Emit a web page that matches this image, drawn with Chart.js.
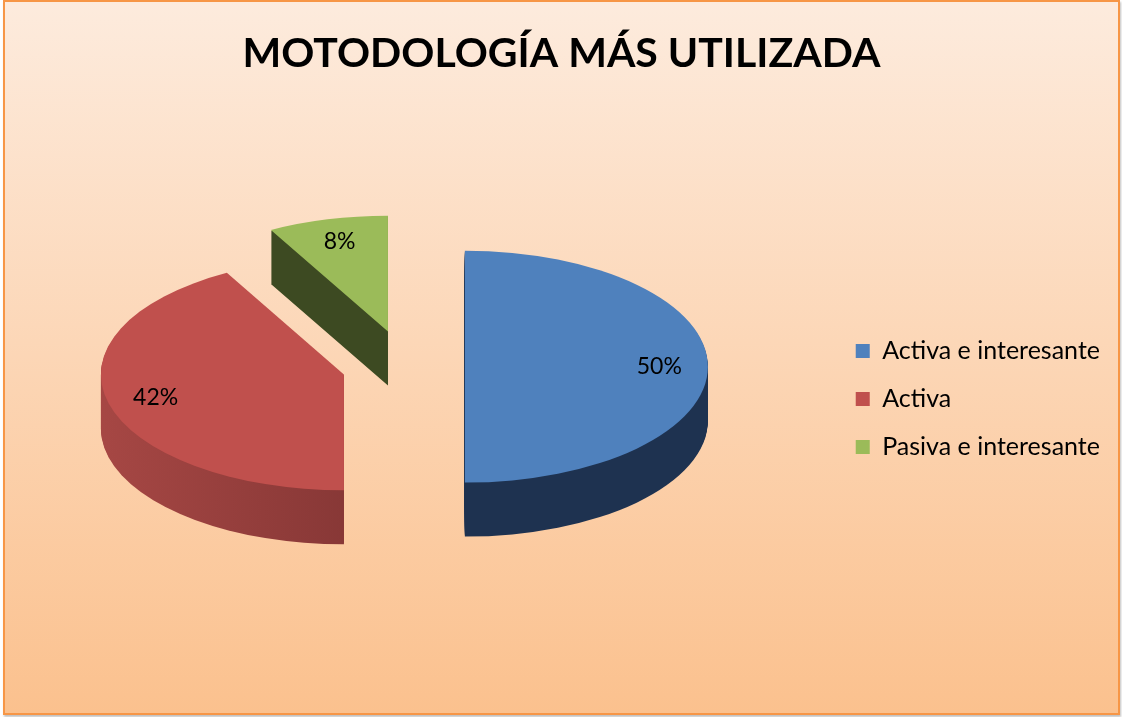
<!DOCTYPE html>
<html><head><meta charset="utf-8">
<script src="https://cdn.jsdelivr.net/npm/chart.js@4/dist/chart.umd.min.js"></script>
<style>
html,body{margin:0;padding:0;background:#fff;}
#wrap{position:absolute;left:3px;top:0;width:1113px;height:711px;border:2px solid #F79646;background:linear-gradient(#FDEBDD,#FBC18E);box-shadow:1px 2px 2px rgba(0,0,0,0.25);}
canvas{display:block}
</style></head><body>
<div id="wrap"><canvas id="c" width="1113" height="711"></canvas></div>
<script>
const categories = ['Activa e interesante', 'Activa', 'Pasiva e interesante'];
const values = [50, 42, 8];
const topColors = ['#4F81BD', '#C0504D', '#9BBB59'];
const sideLight = ['#2E4B71', '#A64744', '#3D4A22'];
const sideDark = ['#1E3250', '#6A2929', '#3D4A22'];
const explode = [58, 65, 76];

const TILT = 0.477, DEPTH = 54, LABEL_R = 0.8, AREA_EXTEND_LEFT = 24;
const FONT = 'Lato, "Open Sans", sans-serif';

const pie3d = {
  id: 'pie3d',
  afterLayout(chart) {
    // keep the title centred on the whole canvas
    const t = chart.titleBlock;
    if (t) { t.left = 0; t.right = chart.width; t.width = chart.width; }
    // let the plot area reach a little further left
    chart.chartArea.left -= AREA_EXTEND_LEFT;
    chart.chartArea.width += AREA_EXTEND_LEFT;
  },
  beforeDatasetsDraw(chart) {
    const ctx = chart.ctx;
    const arcs = chart.getDatasetMeta(0).data;
    const drawArc = (el, i, shift, side) => {
      const mid = (el.startAngle + el.endAngle) / 2;
      const dx = Math.cos(mid) * explode[i], dy = Math.sin(mid) * explode[i];
      ctx.save();
      ctx.translate(0, el.y - DEPTH * 0.6 + shift);
      ctx.scale(1, TILT);
      ctx.translate(dx, dy - el.y);
      const o = el.options;
      if (side) {
        const g = ctx.createLinearGradient(el.x - el.outerRadius, 0, el.x + el.outerRadius, 0);
        if (i === 0) { g.addColorStop(0, sideLight[i]); g.addColorStop(0.35, sideDark[i]); g.addColorStop(1, sideDark[i]); }
        else { g.addColorStop(0, sideLight[i]); g.addColorStop(1, sideDark[i]); }
        el.options = Object.assign({}, o, {backgroundColor: g, borderColor: 'rgba(0,0,0,0)', borderWidth: 0});
      }
      el.draw(ctx);
      el.options = o;
      ctx.restore();
    };
    arcs.forEach((el, i) => { for (let k = DEPTH; k >= 1; k--) drawArc(el, i, k, true); });
    arcs.forEach((el, i) => drawArc(el, i, 0, false));
    return false;
  },
  afterDraw(chart) {
    const ctx = chart.ctx;
    const arcs = chart.getDatasetMeta(0).data;
    const total = values.reduce((a, b) => a + b, 0);
    ctx.save();
    ctx.font = '23px ' + FONT;
    ctx.fillStyle = '#000';
    ctx.textAlign = 'center';
    ctx.textBaseline = 'middle';
    arcs.forEach((el, i) => {
      const mid = (el.startAngle + el.endAngle) / 2;
      const r = el.outerRadius * LABEL_R + explode[i];
      const x = el.x + Math.cos(mid) * r;
      const y = el.y - DEPTH * 0.6 + Math.sin(mid) * r * TILT;
      ctx.fillText(Math.round(values[i] / total * 100) + '%', x, y);
    });
    ctx.restore();
  }
};

new Chart(document.getElementById('c'), {
  type: 'pie',
  data: {
    labels: categories,
    datasets: [{ data: values, backgroundColor: topColors, borderWidth: 0, radius: 243 }]
  },
  options: {
    responsive: false,
    animation: false,
    layout: { padding: { right: 8, bottom: 9 } },
    plugins: {
      title: {
        display: true, text: 'MOTODOLOGÍA MÁS UTILIZADA', color: '#000',
        font: { family: FONT, size: 41, weight: 'bold' },
        padding: { top: 27, bottom: 16 }
      },
      legend: {
        position: 'right',
        fullSize: false,
        labels: { boxWidth: 14, boxHeight: 14, padding: 23, color: '#000', font: { family: FONT, size: 25 } }
      },
      tooltip: { enabled: false }
    }
  },
  plugins: [pie3d]
});
</script>
</body></html>
